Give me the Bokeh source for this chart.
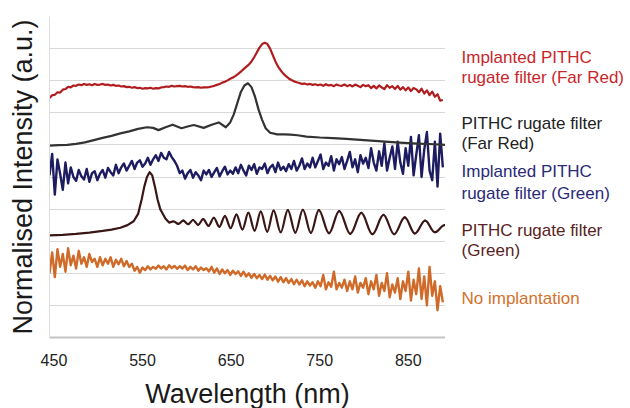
import numpy as np
from bokeh.plotting import figure
from bokeh.layouts import row
from bokeh.models import Range1d, Label, FixedTicker
from bokeh.embed import file_html
from bokeh.resources import INLINE

# sampling grid of the noisy spectra (nm)
wavelength = list(range(445, 892, 3))

implanted_far_red = [
    7.46, 7.55, 7.56, 7.64, 7.63, 7.72, 7.74, 7.81, 7.79, 7.85,
    7.84, 7.88, 7.86, 7.90, 7.87, 7.89, 7.86, 7.90, 7.87, 7.88,
    7.90, 7.87, 7.88, 7.85, 7.87, 7.84, 7.85, 7.82, 7.83, 7.80,
    7.81, 7.78, 7.80, 7.77, 7.78, 7.75, 7.77, 7.76, 7.78, 7.75,
    7.77, 7.76, 7.79, 7.80, 7.82, 7.81, 7.84, 7.82, 7.83, 7.84,
    7.82, 7.83, 7.81, 7.82, 7.80, 7.79, 7.80, 7.78, 7.79, 7.79,
    7.80, 7.82, 7.84, 7.87, 7.90, 7.94, 7.97, 8.01, 8.06, 8.10,
    8.15, 8.21, 8.28, 8.36, 8.43, 8.50, 8.60, 8.73, 8.88, 9.03,
    9.14, 9.18, 9.14, 9.00, 8.80, 8.60, 8.44, 8.32, 8.22, 8.14,
    8.07, 8.02, 7.98, 7.95, 7.93, 7.90, 7.91, 7.88, 7.90, 7.87,
    7.89, 7.86, 7.88, 7.84, 7.89, 7.85, 7.87, 7.83, 7.88, 7.85,
    7.84, 7.88, 7.83, 7.87, 7.82, 7.88, 7.84, 7.80, 7.87, 7.83,
    7.86, 7.77, 7.84, 7.76, 7.85, 7.79, 7.74, 7.86, 7.78, 7.83,
    7.74, 7.84, 7.72, 7.80, 7.70, 7.79, 7.68, 7.77, 7.73, 7.64,
    7.75, 7.60, 7.70, 7.55, 7.66, 7.50, 7.58, 7.38, 7.40,
]

implanted_green = [
    5.05, 5.72, 4.45, 5.55, 5.10, 4.60, 5.45, 4.80, 5.30, 5.00,
    4.88, 5.22, 5.02, 4.92, 5.25, 4.85, 5.12, 5.18, 4.90, 5.10,
    5.22, 4.98, 5.28, 5.15, 5.05, 5.38, 5.12, 5.30, 5.42, 5.20,
    5.35, 5.50, 5.25, 5.45, 5.52, 5.32, 5.42, 5.60, 5.38, 5.55,
    5.68, 5.50, 5.75, 5.60, 5.55, 5.78, 5.62, 5.50, 5.35, 5.12,
    5.20, 4.95, 5.12, 5.22, 4.98, 5.15, 5.05, 4.90, 5.20, 5.08,
    5.22, 5.00, 5.15, 5.28, 5.02, 5.18, 5.32, 5.08, 5.20, 5.10,
    5.30, 5.12, 5.38, 5.20, 5.05, 5.35, 5.22, 5.40, 5.10, 5.30,
    5.25, 5.42, 5.12, 5.30, 5.38, 5.15, 5.45, 5.22, 5.32, 5.18,
    5.40, 5.25, 5.50, 5.20, 5.35, 5.58, 5.25, 5.42, 5.30, 5.60,
    5.30, 5.50, 5.70, 5.25, 5.45, 5.35, 5.65, 5.20, 5.55, 5.40,
    5.62, 5.25, 5.50, 5.78, 5.30, 5.55, 5.15, 5.68, 5.42, 5.60,
    5.28, 5.90, 5.45, 5.20, 5.80, 5.35, 6.05, 5.20, 5.60, 5.95,
    5.25, 6.10, 5.45, 5.10, 5.90, 5.35, 6.25, 5.05, 5.70, 6.30,
    5.00, 5.85, 6.40, 5.20, 4.90, 6.10, 4.70, 6.35, 5.30,
]

no_implantation = [
    2.00, 2.65, 1.88, 2.75, 2.20, 2.60, 2.05, 2.78, 2.25, 2.55,
    2.15, 2.70, 2.30, 2.50, 2.20, 2.60, 2.35, 2.45, 2.20, 2.50,
    2.25, 2.45, 2.30, 2.50, 2.20, 2.42, 2.28, 2.45, 2.22, 2.38,
    2.20, 2.30, 2.08, 2.20, 2.02, 2.18, 2.10, 2.22, 2.12, 2.20,
    2.14, 2.24, 2.15, 2.22, 2.12, 2.25, 2.16, 2.23, 2.14, 2.22,
    2.15, 2.24, 2.10, 2.20, 2.12, 2.22, 2.08, 2.18, 2.10, 2.16,
    2.06, 2.20, 2.02, 2.15, 1.98, 2.12, 2.00, 2.10, 1.95, 2.08,
    1.98, 2.06, 1.92, 2.05, 1.90, 2.00, 1.86, 1.98, 1.85, 1.95,
    1.82, 1.96, 1.80, 1.92, 1.78, 1.90, 1.74, 1.88, 1.72, 1.85,
    1.70, 1.82, 1.66, 1.80, 1.65, 1.78, 1.60, 1.75, 1.62, 1.72,
    1.55, 1.75, 1.60, 1.95, 1.50, 1.72, 1.58, 2.05, 1.50, 1.70,
    1.55, 1.80, 1.45, 1.75, 1.50, 1.90, 1.40, 1.70, 1.55, 1.85,
    1.35, 1.75, 1.50, 1.95, 1.30, 1.70, 1.45, 2.00, 1.25, 1.65,
    1.40, 1.85, 1.20, 1.75, 1.45, 2.05, 1.15, 1.80, 1.35, 2.15,
    1.20, 1.90, 1.00, 2.20, 1.30, 1.75, 0.85, 1.60, 1.10,
]

far_red_wl = [445, 455, 465, 475, 485, 495, 505, 515, 525, 535,
              545, 555, 562, 568, 576, 584, 594, 602, 608, 619,
              628, 636, 644, 649, 653, 657, 661, 665, 669, 673,
              677, 681, 685, 689, 694, 702, 710, 717, 725, 735,
              750, 765, 780, 800, 820, 840, 860, 880, 892]
far_red = [5.98, 5.99, 6.00, 6.03, 6.08, 6.15, 6.22, 6.28, 6.36, 6.42,
           6.50, 6.55, 6.53, 6.46, 6.55, 6.63, 6.52, 6.58, 6.62, 6.53,
           6.63, 6.70, 6.55, 6.70, 6.95, 7.30, 7.65, 7.85, 7.92, 7.80,
           7.50, 7.10, 6.78, 6.52, 6.38, 6.33, 6.33, 6.32, 6.30, 6.26,
           6.23, 6.21, 6.19, 6.15, 6.11, 6.07, 6.04, 6.02, 6.00]

# PITHC rugate filter (Green): smooth part, then the fringe extrema
green_wl = [445, 460, 475, 490, 505, 515, 525, 533, 540, 545,
            549, 552, 555, 558, 561, 564, 567, 570, 573, 576, 580,
            585, 590.5, 596, 601.5, 607, 612.75, 618.5, 624.5, 630.5, 636.75,
            643, 649.5, 656, 662.75, 669.5, 676.5, 683.5, 690.75, 698, 706,
            714, 722.5, 731, 740, 749, 760.5, 772, 784.5, 797, 809.5,
            822, 834, 846, 857.5, 869, 880, 891]
green = [3.18, 3.20, 3.23, 3.27, 3.32, 3.36, 3.42, 3.50, 3.62, 3.85,
         4.30, 4.70, 5.00, 5.15, 5.05, 4.70, 4.30, 4.00, 3.85, 3.70, 3.58,
         3.62, 3.54, 3.64, 3.53, 3.66, 3.51, 3.69, 3.48, 3.73, 3.45,
         3.78, 3.41, 3.83, 3.37, 3.88, 3.33, 3.92, 3.30, 3.95, 3.28,
         3.97, 3.27, 3.98, 3.26, 3.97, 3.25, 3.94, 3.23, 3.88, 3.22,
         3.82, 3.22, 3.74, 3.24, 3.64, 3.28, 3.50]
fringe_start = 21  # index of the first fringe maximum (585 nm)

x_ticks = [450, 550, 650, 750, 850]

legend_lines = [
    ("Implanted PITHC", 8.72, "#c9262a"),
    ("rugate filter (Far Red)", 8.10, "#c9262a"),
    ("PITHC rugate filter", 6.67, "#222222"),
    ("(Far Red)", 6.04, "#222222"),
    ("Implanted PITHC", 5.16, "#2a2a78"),
    ("rugate filter (Green)", 4.49, "#2a2a78"),
    ("PITHC rugate filter", 3.33, "#5a2222"),
    ("(Green)", 2.71, "#5a2222"),
    ("No implantation", 1.23, "#d4712c"),
]

FONT = "Liberation Sans"

p = figure(frame_width=396, frame_height=321,
           x_range=Range1d(445, 892), y_range=Range1d(0, 10),
           output_backend="svg", toolbar_location=None,
           min_border_left=49, min_border_right=0,
           min_border_top=16, min_border_bottom=71)
p.outline_line_color = None

p.xgrid.visible = False
p.ygrid.ticker = FixedTicker(ticks=list(range(0, 11)))
p.ygrid.grid_line_color = "#d9d9d9"
p.ygrid.grid_line_width = 1

p.yaxis.ticker = FixedTicker(ticks=[])
p.yaxis.major_tick_line_color = None
p.yaxis.minor_tick_line_color = None
p.yaxis.axis_line_color = "#dddddd"
p.yaxis.axis_label = "Normalised Intensity (a.u.)"
p.yaxis.axis_label_text_font = FONT
p.yaxis.axis_label_text_font_size = "27px"
p.yaxis.axis_label_text_font_style = "normal"
p.yaxis.axis_label_text_color = "#1a1a1a"
p.yaxis.axis_label_standoff = 12

p.xaxis.ticker = FixedTicker(ticks=x_ticks)
p.xaxis.major_tick_line_color = None
p.xaxis.minor_tick_line_color = None
p.xaxis.axis_line_color = "#c4c4c4"
p.xaxis.axis_line_width = 2
p.xaxis.major_label_text_font = FONT
p.xaxis.major_label_text_font_size = "16px"
p.xaxis.major_label_text_color = "#222222"
p.xaxis.major_label_standoff = 10
p.xaxis.axis_label = "Wavelength (nm)"
p.xaxis.axis_label_text_font = FONT
p.xaxis.axis_label_text_font_size = "27px"
p.xaxis.axis_label_text_font_style = "normal"
p.xaxis.axis_label_text_color = "#1a1a1a"
p.xaxis.axis_label_standoff = 10

line_kw = dict(line_join="round")
p.line(wavelength, no_implantation, line_color="#d06a28", line_width=2.4, **line_kw)

# green rugate filter: smooth part as a polyline, fringes drawn as smooth
# curves (horizontal tangent at each measured extremum)
brown = "#3a1616"
p.line(green_wl[:fringe_start + 1], green[:fringe_start + 1],
       line_color=brown, line_width=2.2, **line_kw)
fx = np.array(green_wl[fringe_start:], dtype=float)
fy = np.array(green[fringe_start:], dtype=float)
x0, x1, y0, y1 = fx[:-1], fx[1:], fy[:-1], fy[1:]
handle = 0.36 * (x1 - x0)
p.bezier(x0=x0, y0=y0, x1=x1, y1=y1,
         cx0=x0 + handle, cy0=y0, cx1=x1 - handle, cy1=y1,
         line_color=brown, line_width=2.2, line_cap="round")

p.line(wavelength, implanted_green, line_color="#1e1c60", line_width=2.4, **line_kw)
p.line(far_red_wl, far_red, line_color="#333333", line_width=2.2, **line_kw)
p.line(wavelength, implanted_far_red, line_color="#b01d1f", line_width=2.2, **line_kw)

# legend panel to the right, sharing the vertical scale of the plot
leg = figure(frame_width=185, frame_height=321,
             x_range=Range1d(0, 185), y_range=Range1d(0, 10),
             output_backend="svg", toolbar_location=None,
             x_axis_location=None, y_axis_location=None,
             min_border_left=0, min_border_right=0,
             min_border_top=16, min_border_bottom=71)
leg.outline_line_color = None
leg.grid.visible = False

for txt, yy, col in legend_lines:
    leg.add_layout(Label(x=16, y=yy, text=txt, text_color=col,
                         text_font=FONT, text_font_size="17px",
                         text_baseline="alphabetic", text_align="left"))

layout = row(p, leg)
open("out.html", "w").write(file_html(layout, INLINE))
